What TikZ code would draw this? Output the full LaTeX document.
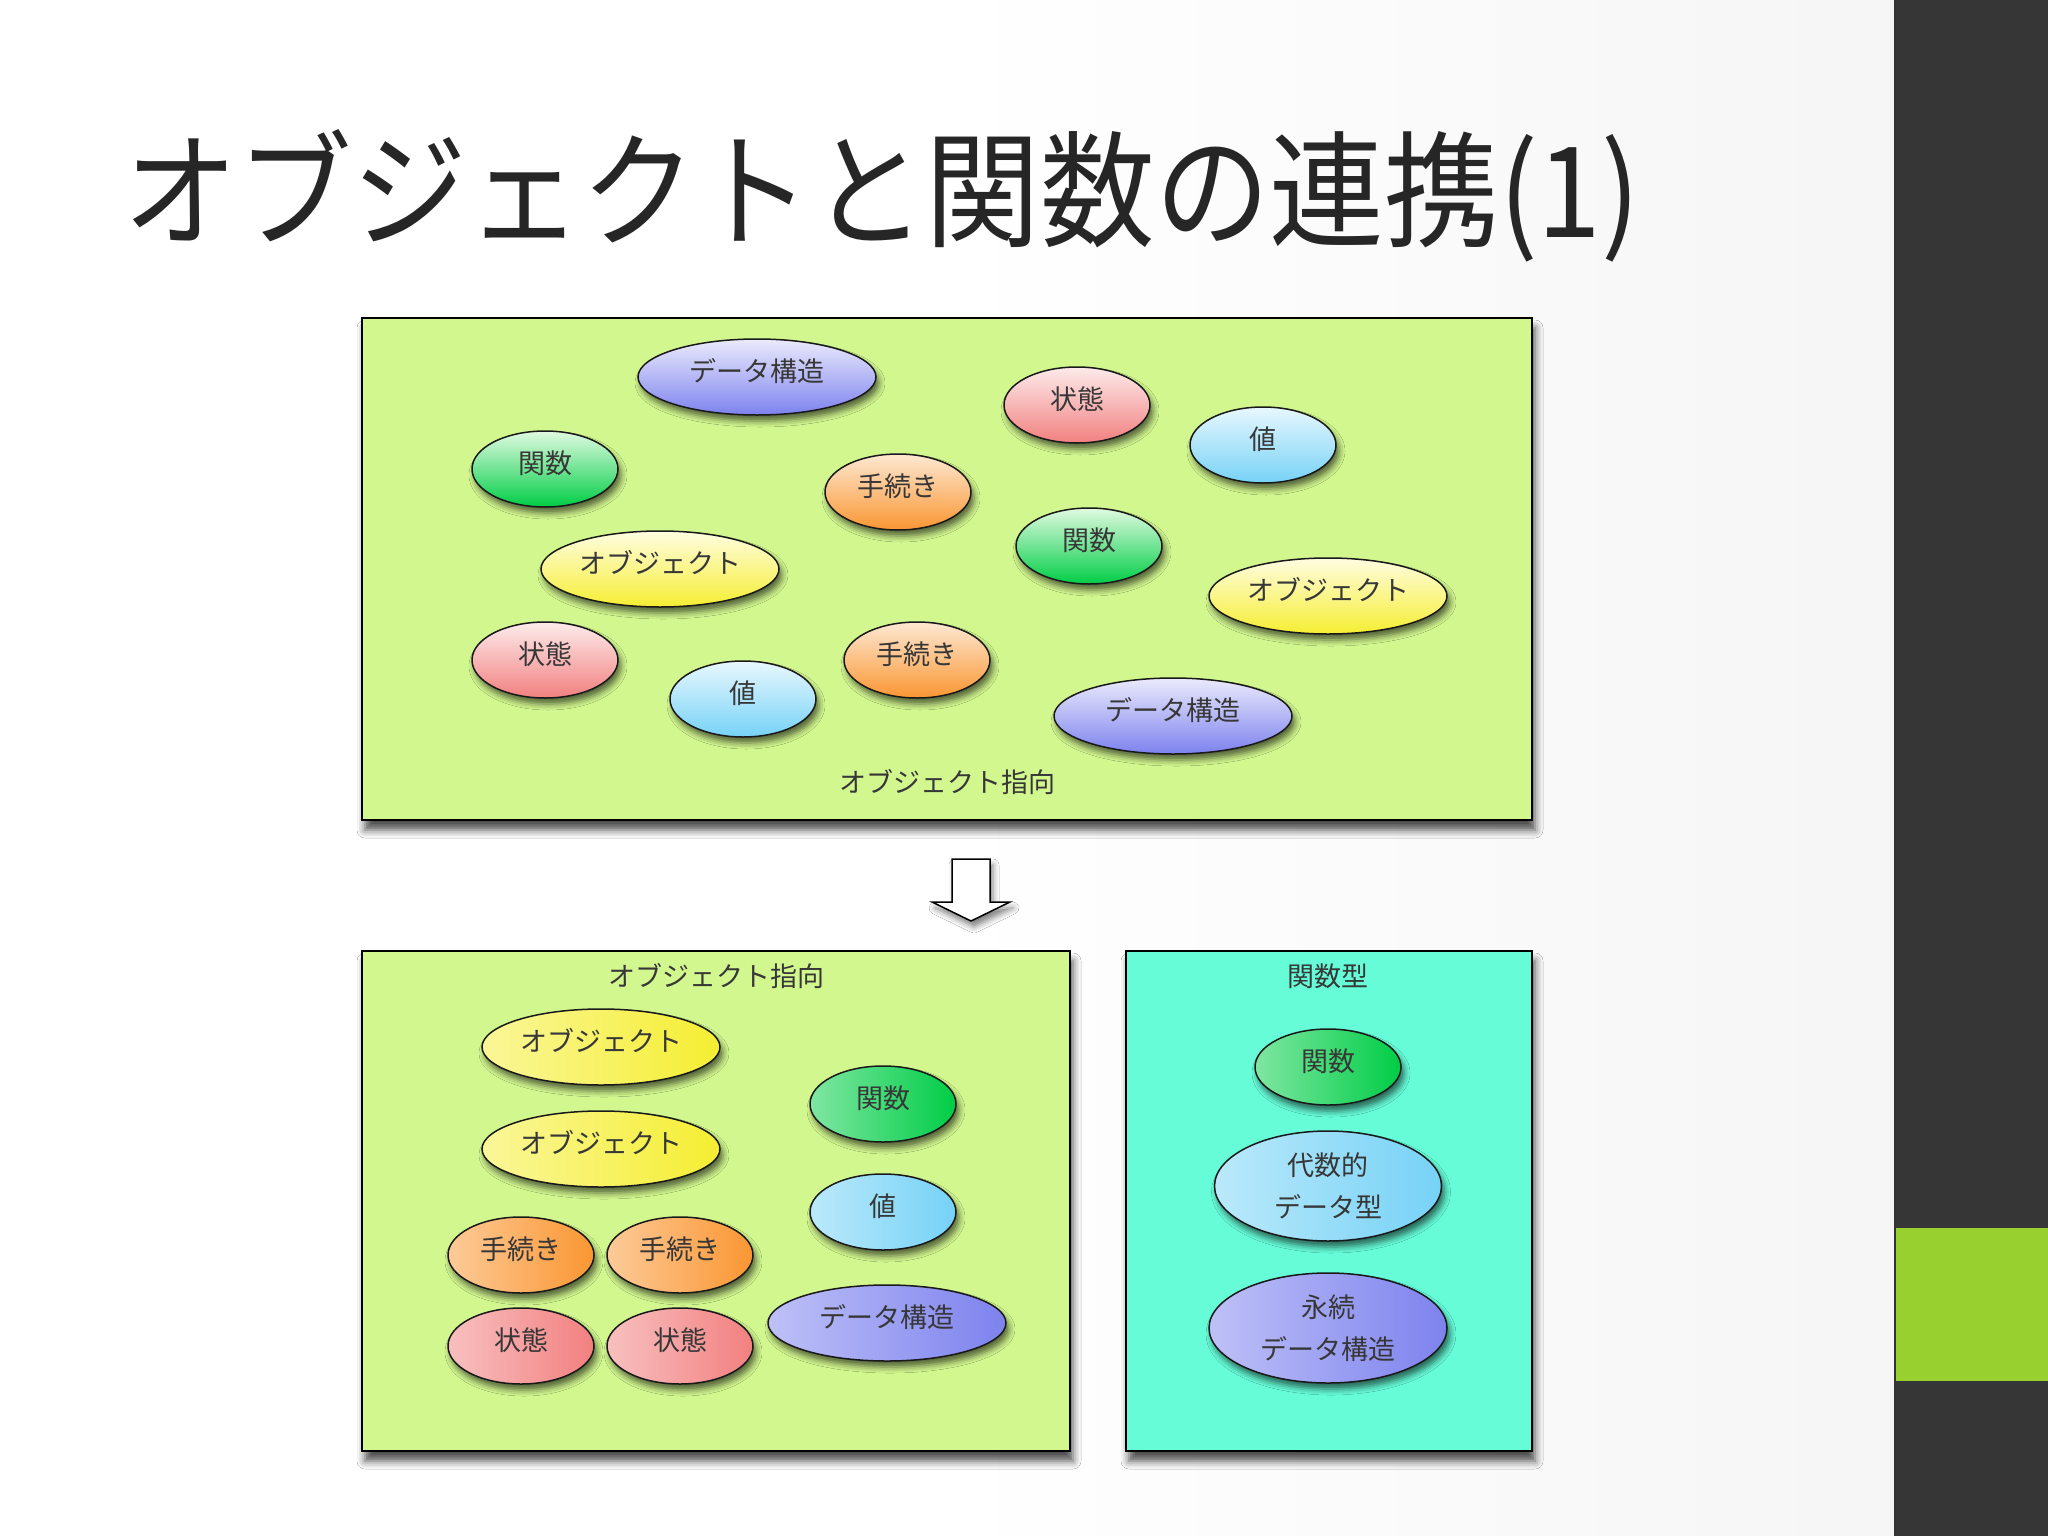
\documentclass[tikz,border=0pt]{standalone}
\usepackage{fontspec}
\setmainfont{Noto Sans CJK JP}
\newfontfamily\titlefont{Noto Sans CJK JP}[FakeStretch=0.91]
\usetikzlibrary{shapes.geometric,shadows.blur}
\definecolor{grnS}{RGB}{0,205,70}
\definecolor{grnP}{RGB}{225,250,225}
\definecolor{bluS}{RGB}{125,130,238}
\definecolor{bluP}{RGB}{235,235,252}
\definecolor{redS}{RGB}{242,128,128}
\definecolor{redP}{RGB}{253,235,235}
\definecolor{cyaS}{RGB}{118,210,246}
\definecolor{cyaP}{RGB}{232,248,254}
\definecolor{oraS}{RGB}{250,150,50}
\definecolor{oraP}{RGB}{253,232,210}
\definecolor{yelS}{RGB}{245,238,50}
\definecolor{yelP}{RGB}{255,253,225}
\definecolor{boxG}{RGB}{210,247,143}
\definecolor{boxC}{RGB}{102,252,216}
\definecolor{barD}{RGB}{54,54,54}
\definecolor{barG}{RGB}{152,208,48}
\definecolor{bgR}{RGB}{236,236,236}
\definecolor{ttl}{RGB}{38,38,38}
\definecolor{txt}{RGB}{55,55,55}
\pgfdeclarehorizontalshading{bgshade}{100bp}{color(0bp)=(white); color(50bp)=(white); color(100bp)=(bgR)}
\tikzset{
  bub/.style={ellipse, draw=black!90, line width=1.5pt, inner sep=0pt, text=txt,
    font=\fontsize{27}{42}\selectfont, align=center,
    blur shadow={shadow xshift=3pt, shadow yshift=-6pt, shadow blur radius=6pt, shadow opacity=60}},
  one/.style={text height=24pt, text depth=15pt},
  sml/.style={minimum width=146pt, minimum height=76pt},
  wid/.style={minimum width=238pt, minimum height=76pt},
  vg/.style={top color=#1P, bottom color=#1S},
  hg/.style={left color=#1S!50!white, middle color=white, right color=#1S},
  panel/.style={rectangle, draw=black, line width=2pt, inner sep=0pt,
    blur shadow={shadow xshift=3pt, shadow yshift=-10pt, shadow blur radius=8pt, shadow opacity=70}},
  plabel/.style={font=\fontsize{27}{27}\selectfont, text=txt, inner sep=0pt},
  blockarrow/.style={draw=black, line width=1.5pt, fill=white, line join=miter,
    blur shadow={shadow xshift=3pt, shadow yshift=-6pt, shadow blur radius=6pt, shadow opacity=50}}
}
\begin{document}
\begin{tikzpicture}[x=1pt,y=-1pt]
\useasboundingbox (0,0) rectangle (2048,1536);
% background
\shade[shading=bgshade] (0,0) rectangle (1895,1536);
\fill[barD] (1895,0) rectangle (2048,1536);
\fill[barG] (1895,1228) rectangle (2048,1381);
\draw[black!80, line width=1.5pt] (1895,0) -- (1895,1536);
% title
\node[anchor=base west, inner sep=0pt, text=ttl, font=\titlefont\fontsize{126}{126}\selectfont] (title) at (123,237) {オブジェクトと関数の連携(1)};
% panels
\node[panel, fill=boxG, minimum width=1170pt, minimum height=502pt] (top) at (947,569) {};
\node[panel, fill=boxG, minimum width=708pt, minimum height=500pt] (bl) at (716,1201) {};
\node[panel, fill=boxC, minimum width=406pt, minimum height=500pt] (br) at (1329,1201) {};
% arrow
\draw[blockarrow] (952,859) -- (990,859) -- (990,902) -- (1010,902) -- (971,921) -- (932,902) -- (952,902) -- cycle;
% top panel
\node[bub,one,wid,vg=blu] (t1) at (757,377) {データ構造};
\node[bub,one,sml,vg=grn] (t2) at (545,469) {関数};
\node[bub,one,sml,vg=red] (t3) at (1077,405) {状態};
\node[bub,one,sml,vg=cya] (t4) at (1263,445) {値};
\node[bub,one,sml,vg=ora] (t5) at (898,492) {手続き};
\node[bub,one,sml,vg=grn] (t6) at (1089,546) {関数};
\node[bub,one,wid,vg=yel] (t7) at (660,569) {オブジェクト};
\node[bub,one,wid,vg=yel] (t8) at (1328,596) {オブジェクト};
\node[bub,one,sml,vg=red] (t9) at (545,660) {状態};
\node[bub,one,sml,vg=cya] (t10) at (743,699) {値};
\node[bub,one,sml,vg=ora] (t11) at (917,660) {手続き};
\node[bub,one,wid,vg=blu] (t12) at (1173,716) {データ構造};
\node[plabel] (toplab) at (947,782) {オブジェクト指向};
% bottom-left panel
\node[plabel] (bllab) at (716,976) {オブジェクト指向};
\node[bub,one,wid,hg=yel] (b1) at (601,1047) {オブジェクト};
\node[bub,one,wid,hg=yel] (b2) at (601,1149) {オブジェクト};
\node[bub,one,sml,hg=grn] (b3) at (883,1104) {関数};
\node[bub,one,sml,hg=cya] (b4) at (883,1212) {値};
\node[bub,one,sml,hg=ora] (b5) at (521,1255) {手続き};
\node[bub,one,sml,hg=ora] (b6) at (680,1255) {手続き};
\node[bub,one,sml,hg=red] (b7) at (521,1346) {状態};
\node[bub,one,sml,hg=red] (b8) at (680,1346) {状態};
\node[bub,one,wid,hg=blu] (b9) at (887,1323) {データ構造};
% bottom-right panel
\node[plabel] (brlab) at (1328,976) {関数型};
\node[bub,one,sml,hg=grn] (r1) at (1328,1067) {関数};
\node[bub,hg=cya, minimum width=227pt, minimum height=110pt] (r2) at (1328,1186) {代数的\\データ型};
\node[bub,hg=blu, minimum width=238pt, minimum height=110pt] (r3) at (1328,1328) {永続\\データ構造};
\end{tikzpicture}
\end{document}
